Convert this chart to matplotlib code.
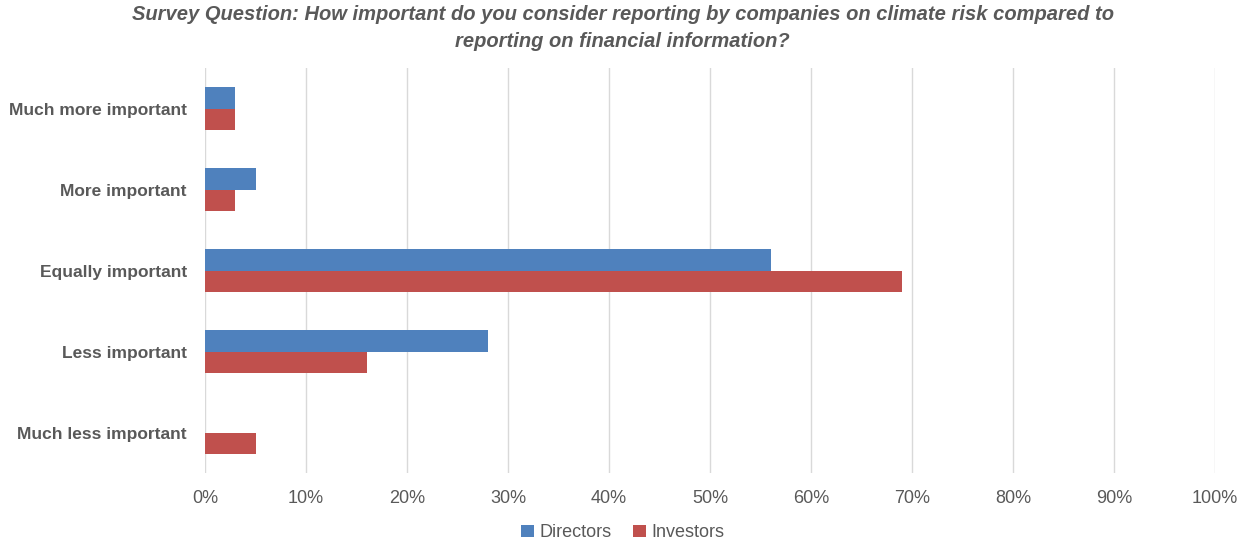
import numpy as np
import matplotlib.pyplot as plt

plt.rcParams['font.family'] = ['Liberation Sans', 'DejaVu Sans']

categories = ["Much more important", "More important", "Equally important",
              "Less important", "Much less important"]
directors = [3, 5, 56, 28, 0]
investors = [3, 3, 69, 16, 5]
x_ticks = list(range(0, 101, 10))

BLUE = "#4F81BD"
RED = "#C0504D"
GRAY = "#595959"

fig = plt.figure(figsize=(12.45, 5.44), dpi=100)
ax = fig.add_axes([0.1647, 0.1305, 0.8112, 0.7445])

y = np.arange(len(categories))
h = 0.26
ax.barh(y - h / 2, directors, height=h, color=BLUE, label="Directors", zorder=3)
ax.barh(y + h / 2, investors, height=h, color=RED, label="Investors", zorder=3)

ax.set_xlim(0, 100)
ax.set_ylim(len(categories) - 0.5, -0.5)
ax.set_xticks(x_ticks)
ax.set_xticklabels([f"{t}%" for t in x_ticks], color=GRAY, fontsize=13)
ax.set_yticks(y)
ax.set_yticklabels(categories, color=GRAY, fontsize=12.5, fontweight="bold")
ax.tick_params(length=0)
ax.tick_params(axis="x", pad=12)
ax.tick_params(axis="y", pad=13)

ax.grid(axis="x", color="#D9D9D9", linewidth=1, zorder=0)
for s in ax.spines.values():
    s.set_visible(False)

fig.suptitle("Survey Question: How important do you consider reporting by companies on climate risk compared to\n"
             "reporting on financial information?",
             x=0.5, y=0.99, fontsize=14.5, fontweight="bold", style="italic", color=GRAY,
             linespacing=1.5)

fig.legend(loc="lower center", bbox_to_anchor=(0.5, -0.025), ncol=2, frameon=False,
           fontsize=13, handlelength=0.7, handleheight=0.7, handletextpad=0.3,
           columnspacing=1.2, labelcolor=GRAY)

fig.savefig("out.png", dpi=100)
